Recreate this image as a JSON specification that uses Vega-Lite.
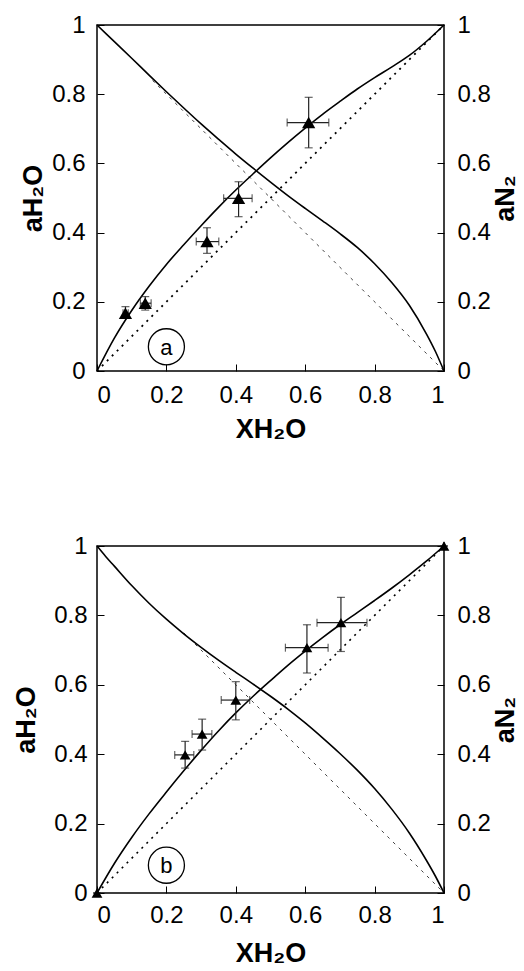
{
  "$schema": "https://vega.github.io/schema/vega-lite/v6.json",
  "background": "white",
  "padding": {"left": 11, "top": 12, "right": 0, "bottom": 0},
  "columns": 1,
  "align": "none",
  "spacing": 90,
  "config": {
    "font": "Liberation Sans",
    "view": {"stroke": "black", "strokeWidth": 1.5},
    "axis": {
      "grid": false, "domain": false, "tickColor": "black", "tickSize": -7, "tickWidth": 1,
      "labelFont": "Liberation Sans", "labelFontSize": 24, "labelColor": "black",
      "titleFont": "Liberation Sans", "titleFontSize": 27, "titleFontWeight": "bold", "titleColor": "black"
    }
  },
  "datasets": {
    "curves_a": [
      {"x": 0, "y": 0, "s": "H"}, {"x": 0.05, "y": 0.095, "s": "H"}, {"x": 0.1, "y": 0.175, "s": "H"}, {"x": 0.15, "y": 0.245, "s": "H"}, {"x": 0.2, "y": 0.308, "s": "H"}, {"x": 0.25, "y": 0.365, "s": "H"}, {"x": 0.3, "y": 0.42, "s": "H"}, {"x": 0.35, "y": 0.473, "s": "H"}, {"x": 0.4, "y": 0.523, "s": "H"}, {"x": 0.45, "y": 0.57, "s": "H"}, {"x": 0.5, "y": 0.616, "s": "H"}, {"x": 0.55, "y": 0.66, "s": "H"}, {"x": 0.6, "y": 0.702, "s": "H"}, {"x": 0.65, "y": 0.742, "s": "H"}, {"x": 0.7, "y": 0.779, "s": "H"}, {"x": 0.75, "y": 0.815, "s": "H"}, {"x": 0.8, "y": 0.848, "s": "H"}, {"x": 0.85, "y": 0.879, "s": "H"}, {"x": 0.9, "y": 0.912, "s": "H"}, {"x": 0.95, "y": 0.953, "s": "H"}, {"x": 1, "y": 1, "s": "H"},
      {"x": 0, "y": 1, "s": "N"}, {"x": 0.05, "y": 0.952, "s": "N"}, {"x": 0.1, "y": 0.904, "s": "N"}, {"x": 0.15, "y": 0.855, "s": "N"}, {"x": 0.2, "y": 0.807, "s": "N"}, {"x": 0.25, "y": 0.76, "s": "N"}, {"x": 0.3, "y": 0.714, "s": "N"}, {"x": 0.35, "y": 0.67, "s": "N"}, {"x": 0.4, "y": 0.627, "s": "N"}, {"x": 0.45, "y": 0.586, "s": "N"}, {"x": 0.5, "y": 0.546, "s": "N"}, {"x": 0.55, "y": 0.507, "s": "N"}, {"x": 0.6, "y": 0.47, "s": "N"}, {"x": 0.65, "y": 0.434, "s": "N"}, {"x": 0.7, "y": 0.397, "s": "N"}, {"x": 0.75, "y": 0.357, "s": "N"}, {"x": 0.8, "y": 0.31, "s": "N"}, {"x": 0.85, "y": 0.255, "s": "N"}, {"x": 0.9, "y": 0.19, "s": "N"}, {"x": 0.95, "y": 0.106, "s": "N"}, {"x": 0.975, "y": 0.057, "s": "N"}, {"x": 1, "y": 0, "s": "N"},
      {"x": 0, "y": 0, "s": "IH"}, {"x": 1, "y": 1, "s": "IH"},
      {"x": 0.16, "y": 0.84, "s": "IN"}, {"x": 1, "y": 0, "s": "IN"}
    ],
    "curves_b": [
      {"x": 0, "y": 0, "s": "H"}, {"x": 0.05, "y": 0.085, "s": "H"}, {"x": 0.1, "y": 0.16, "s": "H"}, {"x": 0.15, "y": 0.228, "s": "H"}, {"x": 0.2, "y": 0.291, "s": "H"}, {"x": 0.25, "y": 0.352, "s": "H"}, {"x": 0.3, "y": 0.411, "s": "H"}, {"x": 0.35, "y": 0.467, "s": "H"}, {"x": 0.4, "y": 0.519, "s": "H"}, {"x": 0.45, "y": 0.567, "s": "H"}, {"x": 0.5, "y": 0.612, "s": "H"}, {"x": 0.55, "y": 0.656, "s": "H"}, {"x": 0.6, "y": 0.697, "s": "H"}, {"x": 0.65, "y": 0.736, "s": "H"}, {"x": 0.7, "y": 0.773, "s": "H"}, {"x": 0.75, "y": 0.808, "s": "H"}, {"x": 0.8, "y": 0.843, "s": "H"}, {"x": 0.85, "y": 0.879, "s": "H"}, {"x": 0.9, "y": 0.917, "s": "H"}, {"x": 0.95, "y": 0.957, "s": "H"}, {"x": 1, "y": 1, "s": "H"},
      {"x": 0, "y": 1, "s": "N"}, {"x": 0.025, "y": 0.97, "s": "N"}, {"x": 0.05, "y": 0.942, "s": "N"}, {"x": 0.1, "y": 0.886, "s": "N"}, {"x": 0.15, "y": 0.835, "s": "N"}, {"x": 0.2, "y": 0.789, "s": "N"}, {"x": 0.25, "y": 0.747, "s": "N"}, {"x": 0.3, "y": 0.708, "s": "N"}, {"x": 0.35, "y": 0.671, "s": "N"}, {"x": 0.4, "y": 0.636, "s": "N"}, {"x": 0.45, "y": 0.602, "s": "N"}, {"x": 0.5, "y": 0.567, "s": "N"}, {"x": 0.55, "y": 0.53, "s": "N"}, {"x": 0.6, "y": 0.49, "s": "N"}, {"x": 0.65, "y": 0.447, "s": "N"}, {"x": 0.7, "y": 0.402, "s": "N"}, {"x": 0.75, "y": 0.354, "s": "N"}, {"x": 0.8, "y": 0.301, "s": "N"}, {"x": 0.85, "y": 0.241, "s": "N"}, {"x": 0.9, "y": 0.173, "s": "N"}, {"x": 0.95, "y": 0.093, "s": "N"}, {"x": 0.975, "y": 0.049, "s": "N"}, {"x": 1, "y": 0, "s": "N"},
      {"x": 0, "y": 0, "s": "IH"}, {"x": 1, "y": 1, "s": "IH"},
      {"x": 0.25, "y": 0.75, "s": "IN"}, {"x": 1, "y": 0, "s": "IN"}
    ],
    "points_a": [
      {"x": 0.082, "y": 0.167, "xlo": 0.075, "xhi": 0.09, "ylo": 0.152, "yhi": 0.186},
      {"x": 0.139, "y": 0.196, "xlo": 0.125, "xhi": 0.156, "ylo": 0.176, "yhi": 0.215},
      {"x": 0.317, "y": 0.374, "xlo": 0.286, "xhi": 0.351, "ylo": 0.34, "yhi": 0.414},
      {"x": 0.408, "y": 0.499, "xlo": 0.365, "xhi": 0.447, "ylo": 0.446, "yhi": 0.547},
      {"x": 0.61, "y": 0.718, "xlo": 0.548, "xhi": 0.668, "ylo": 0.645, "yhi": 0.791}
    ],
    "points_b": [
      {"x": 0, "y": 0, "xlo": 0, "xhi": 0, "ylo": 0, "yhi": 0},
      {"x": 0.254, "y": 0.398, "xlo": 0.224, "xhi": 0.279, "ylo": 0.36, "yhi": 0.437},
      {"x": 0.303, "y": 0.458, "xlo": 0.274, "xhi": 0.331, "ylo": 0.412, "yhi": 0.501},
      {"x": 0.4, "y": 0.556, "xlo": 0.358, "xhi": 0.44, "ylo": 0.499, "yhi": 0.609},
      {"x": 0.605, "y": 0.707, "xlo": 0.543, "xhi": 0.666, "ylo": 0.634, "yhi": 0.773},
      {"x": 0.703, "y": 0.779, "xlo": 0.634, "xhi": 0.778, "ylo": 0.696, "yhi": 0.852},
      {"x": 1, "y": 1, "xlo": 1, "xhi": 1, "ylo": 1, "yhi": 1}
    ],
    "label_a": [{"x": 0.2, "y": 0.07, "t": "a"}],
    "label_b": [{"x": 0.2, "y": 0.08, "t": "b"}]
  },
  "concat": [
    {
      "width": 347, "height": 346,
      "layer": [
        {
          "layer": [
            {"data": {"name": "curves_a"}, "transform": [{"filter": "datum.s === 'IH'"}],
             "mark": {"type": "line", "color": "black", "strokeWidth": 1.8, "strokeDash": [2, 5]},
             "encoding": {
               "x": {"field": "x", "type": "quantitative", "title": "XH₂O", "scale": {"domain": [0, 1], "nice": false}, "axis": {"values": [0, 0.2, 0.4, 0.6, 0.8, 1], "format": "~g", "labelPadding": 19, "titlePadding": 9}},
               "y": {"field": "y", "type": "quantitative", "title": "aH₂O", "scale": {"domain": [0, 1], "nice": false}, "axis": {"orient": "left", "values": [0, 0.2, 0.4, 0.6, 0.8, 1], "format": "~g", "labelPadding": 19, "titlePadding": 4}}
             }},
            {"data": {"name": "curves_a"}, "transform": [{"filter": "datum.s === 'IN'"}],
             "mark": {"type": "line", "color": "#444", "strokeWidth": 1, "strokeDash": [3, 5]},
             "encoding": {"x": {"field": "x", "type": "quantitative", "title": "XH₂O"}, "y": {"field": "y", "type": "quantitative", "title": "aH₂O"}}},
            {"data": {"name": "curves_a"}, "transform": [{"filter": "datum.s === 'H'"}],
             "mark": {"type": "line", "color": "black", "strokeWidth": 1.6, "interpolate": "monotone"},
             "encoding": {"x": {"field": "x", "type": "quantitative", "title": "XH₂O"}, "y": {"field": "y", "type": "quantitative", "title": "aH₂O"}}},
            {"data": {"name": "points_a"},
             "mark": {"type": "errorbar", "color": "#222", "thickness": 1.2, "ticks": {"size": 8}},
             "encoding": {"x": {"field": "xlo", "type": "quantitative", "title": "XH₂O"}, "x2": {"field": "xhi"}, "y": {"field": "y", "type": "quantitative", "title": "aH₂O"}}},
            {"data": {"name": "points_a"},
             "mark": {"type": "errorbar", "color": "#222", "thickness": 1.2, "ticks": {"size": 8}},
             "encoding": {"y": {"field": "ylo", "type": "quantitative", "title": "aH₂O"}, "y2": {"field": "yhi"}, "x": {"field": "x", "type": "quantitative", "title": "XH₂O"}}},
            {"data": {"name": "points_a"},
             "mark": {"type": "point", "shape": "triangle-up", "filled": true, "color": "black", "opacity": 1, "size": 175},
             "encoding": {"x": {"field": "x", "type": "quantitative", "title": "XH₂O"}, "y": {"field": "y", "type": "quantitative", "title": "aH₂O"}}},
            {"data": {"name": "label_a"},
             "mark": {"type": "point", "shape": "circle", "filled": false, "color": "black", "opacity": 1, "strokeWidth": 1.3, "size": 1300},
             "encoding": {"x": {"field": "x", "type": "quantitative", "title": "XH₂O"}, "y": {"field": "y", "type": "quantitative", "title": "aH₂O"}}},
            {"data": {"name": "label_a"},
             "mark": {"type": "text", "fontSize": 22, "color": "black", "baseline": "middle", "align": "center", "dy": 1},
             "encoding": {"x": {"field": "x", "type": "quantitative", "title": "XH₂O"}, "y": {"field": "y", "type": "quantitative", "title": "aH₂O"}, "text": {"field": "t"}}}
          ]
        },
        {
          "data": {"name": "curves_a"}, "transform": [{"filter": "datum.s === 'N'"}],
          "mark": {"type": "line", "color": "black", "strokeWidth": 1.6, "interpolate": "monotone"},
          "encoding": {
            "x": {"field": "x", "type": "quantitative", "title": "XH₂O"},
            "y": {"field": "y", "type": "quantitative", "title": "aN₂", "scale": {"domain": [0, 1], "nice": false}, "axis": {"orient": "right", "values": [0, 0.2, 0.4, 0.6, 0.8, 1], "format": "~g", "titleAngle": 270, "titleBaseline": "top", "labelPadding": 20, "titlePadding": 2}}
          }
        }
      ],
      "resolve": {"scale": {"y": "independent"}}
    },
    {
      "width": 347, "height": 347,
      "layer": [
        {
          "layer": [
            {"data": {"name": "curves_b"}, "transform": [{"filter": "datum.s === 'IH'"}],
             "mark": {"type": "line", "color": "black", "strokeWidth": 1.6, "strokeDash": [2, 5]},
             "encoding": {
               "x": {"field": "x", "type": "quantitative", "title": "XH₂O", "scale": {"domain": [0, 1], "nice": false}, "axis": {"values": [0, 0.2, 0.4, 0.6, 0.8, 1], "format": "~g", "labelPadding": 17, "titlePadding": 13}},
               "y": {"field": "y", "type": "quantitative", "title": "aH₂O", "scale": {"domain": [0, 1], "nice": false}, "axis": {"orient": "left", "values": [0, 0.2, 0.4, 0.6, 0.8, 1], "format": "~g", "labelPadding": 17, "titlePadding": 13}}
             }},
            {"data": {"name": "curves_b"}, "transform": [{"filter": "datum.s === 'IN'"}],
             "mark": {"type": "line", "color": "#444", "strokeWidth": 1, "strokeDash": [3, 5]},
             "encoding": {"x": {"field": "x", "type": "quantitative", "title": "XH₂O"}, "y": {"field": "y", "type": "quantitative", "title": "aH₂O"}}},
            {"data": {"name": "curves_b"}, "transform": [{"filter": "datum.s === 'H'"}],
             "mark": {"type": "line", "color": "black", "strokeWidth": 1.6, "interpolate": "monotone"},
             "encoding": {"x": {"field": "x", "type": "quantitative", "title": "XH₂O"}, "y": {"field": "y", "type": "quantitative", "title": "aH₂O"}}},
            {"data": {"name": "points_b"},
             "mark": {"type": "errorbar", "color": "#222", "thickness": 1.2, "ticks": {"size": 8}},
             "encoding": {"x": {"field": "xlo", "type": "quantitative", "title": "XH₂O"}, "x2": {"field": "xhi"}, "y": {"field": "y", "type": "quantitative", "title": "aH₂O"}}},
            {"data": {"name": "points_b"},
             "mark": {"type": "errorbar", "color": "#222", "thickness": 1.2, "ticks": {"size": 8}},
             "encoding": {"y": {"field": "ylo", "type": "quantitative", "title": "aH₂O"}, "y2": {"field": "yhi"}, "x": {"field": "x", "type": "quantitative", "title": "XH₂O"}}},
            {"data": {"name": "points_b"},
             "mark": {"type": "point", "shape": "triangle-up", "filled": true, "color": "black", "opacity": 1, "size": 115},
             "encoding": {"x": {"field": "x", "type": "quantitative", "title": "XH₂O"}, "y": {"field": "y", "type": "quantitative", "title": "aH₂O"}}},
            {"data": {"name": "label_b"},
             "mark": {"type": "point", "shape": "circle", "filled": false, "color": "black", "opacity": 1, "strokeWidth": 1.3, "size": 1300},
             "encoding": {"x": {"field": "x", "type": "quantitative", "title": "XH₂O"}, "y": {"field": "y", "type": "quantitative", "title": "aH₂O"}}},
            {"data": {"name": "label_b"},
             "mark": {"type": "text", "fontSize": 22, "color": "black", "baseline": "middle", "align": "center", "dy": 1},
             "encoding": {"x": {"field": "x", "type": "quantitative", "title": "XH₂O"}, "y": {"field": "y", "type": "quantitative", "title": "aH₂O"}, "text": {"field": "t"}}}
          ]
        },
        {
          "data": {"name": "curves_b"}, "transform": [{"filter": "datum.s === 'N'"}],
          "mark": {"type": "line", "color": "black", "strokeWidth": 1.6, "interpolate": "monotone"},
          "encoding": {
            "x": {"field": "x", "type": "quantitative", "title": "XH₂O"},
            "y": {"field": "y", "type": "quantitative", "title": "aN₂", "scale": {"domain": [0, 1], "nice": false}, "axis": {"orient": "right", "values": [0, 0.2, 0.4, 0.6, 0.8, 1], "format": "~g", "titleAngle": 270, "titleBaseline": "top", "labelPadding": 20, "titlePadding": 2}}
          }
        }
      ],
      "resolve": {"scale": {"y": "independent"}}
    }
  ]
}
